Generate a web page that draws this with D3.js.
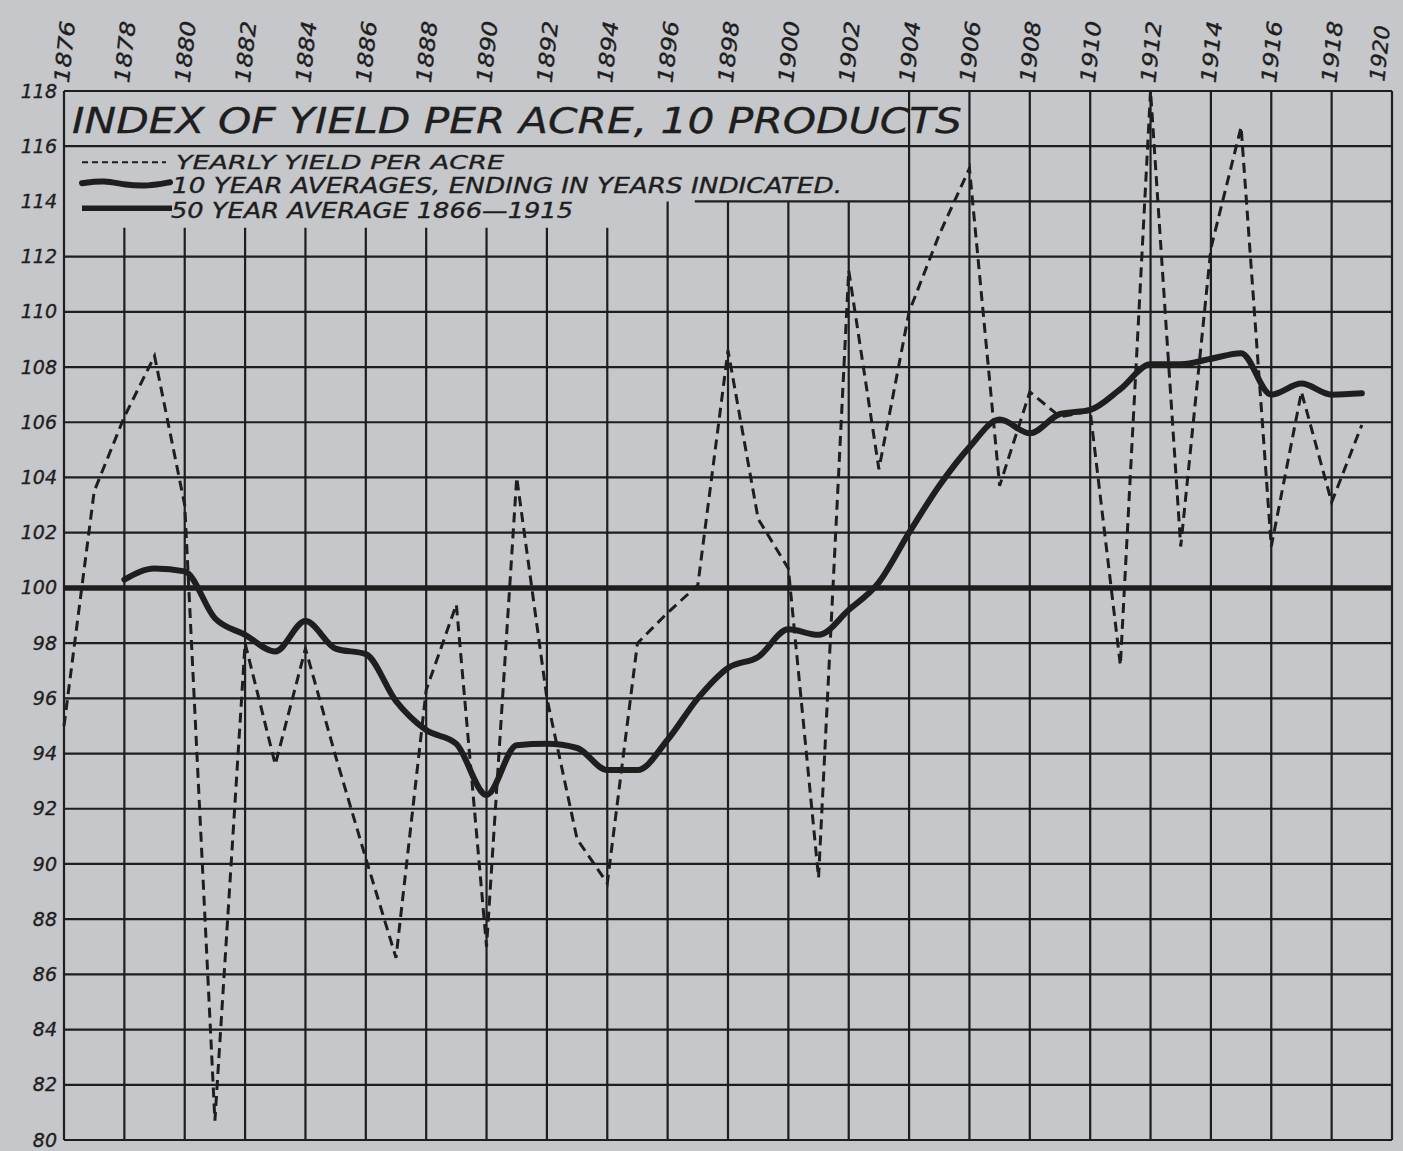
<!DOCTYPE html>
<html><head><meta charset="utf-8">
<script src="https://cdn.jsdelivr.net/npm/d3@7"></script>
<style>
html,body{margin:0;padding:0;background:#c5c7ca;}
svg{display:block;}
text{font-family:"DejaVu Sans",sans-serif;font-style:italic;fill:#1e1e1e;stroke:#1e1e1e;stroke-width:0.35px;}
</style></head><body>
<svg id="chart" width="1403" height="1151"></svg>
<script>
// ---- data ----
const titleText = "INDEX OF YIELD PER ACRE, 10 PRODUCTS";
const legendLabels = ["YEARLY YIELD PER ACRE", "10 YEAR AVERAGES, ENDING IN YEARS INDICATED.", "50 YEAR AVERAGE 1866\u20141915"];
const yearTicks = [1876,1878,1880,1882,1884,1886,1888,1890,1892,1894,1896,1898,1900,1902,1904,1906,1908,1910,1912,1914,1916,1918,1920];
const valueTicks = [80,82,84,86,88,90,92,94,96,98,100,102,104,106,108,110,112,114,116,118];

const yearlyYears = [1876,1877,1878,1879,1880,1881,1882,1883,1884,1885,1886,1887,1888,1889,1890,1891,1892,1893,1894,1895,1896,1897,1898,1899,1900,1901,1902,1903,1904,1905,1906,1907,1908,1909,1910,1911,1912,1913,1914,1915,1916,1917,1918,1919];
const yearlyYield = [95.0,103.5,106.2,108.4,103.0,80.7,98.0,93.6,97.8,93.9,90.2,86.6,96.3,99.4,87.0,104.0,96.0,90.9,89.3,98.0,99.1,100.1,108.6,102.5,100.7,89.5,111.5,104.3,110.0,112.8,115.2,103.7,107.1,106.2,106.4,97.2,118.0,101.5,112.3,116.7,101.5,107.1,103.1,105.9];

const avgYears = [1878,1879,1880,1881,1882,1883,1884,1885,1886,1887,1888,1889,1890,1891,1892,1893,1894,1895,1896,1897,1898,1899,1900,1901,1902,1903,1904,1905,1906,1907,1908,1909,1910,1911,1912,1913,1914,1915,1916,1917,1918,1919];
const tenYearAvg = [100.3,100.7,100.6,98.9,98.3,97.7,98.8,97.8,97.6,95.9,94.85,94.35,92.5,94.3,94.35,94.2,93.4,93.4,94.5,96.0,97.1,97.5,98.5,98.3,99.2,100.2,102.0,103.7,105.1,106.1,105.6,106.3,106.45,107.2,108.1,108.1,108.3,108.5,107.0,107.4,107.0,107.05];

const fiftyYearAvg = 100;

// ---- scales ----
const ink = "#1e1e1e";
const svg = d3.select("#chart");
const x = d3.scaleLinear().domain([1876,1920]).range([64,1392]);
const y = d3.scaleLinear().domain([80,118]).range([1140,91]);

// ---- grid ----
const grid = svg.append("g").attr("stroke", ink).attr("stroke-width", 2.2);
function vStart(yr){
  if (yr === 1876 || yr >= 1904) return y(118);
  if (yr >= 1896) return y(114);
  return y(113.05);
}
grid.selectAll("line.v").data(yearTicks).join("line")
  .attr("class","v")
  .attr("x1", d => x(d)).attr("x2", d => x(d))
  .attr("y1", d => vStart(d)).attr("y2", y(80));
grid.selectAll("line.h").data(valueTicks).join("line")
  .attr("class","h")
  .attr("x1", d => d === 114 ? x(1896.9) : x(1876))
  .attr("x2", x(1920))
  .attr("y1", d => y(d)).attr("y2", d => y(d));

// ---- 50 year average ----
svg.append("line")
  .attr("x1", x(1876)).attr("x2", x(1920))
  .attr("y1", y(fiftyYearAvg)).attr("y2", y(fiftyYearAvg))
  .attr("stroke", ink).attr("stroke-width", 5.5);

// ---- yearly yield (dashed) ----
const yearly = yearlyYears.map((yr,i) => [yr, yearlyYield[i]]);
svg.append("path")
  .datum(yearly)
  .attr("fill","none").attr("stroke", ink).attr("stroke-width", 3)
  .attr("stroke-dasharray","10,6")
  .attr("d", d3.line().x(d => x(d[0])).y(d => y(d[1])));

// ---- 10 year averages (thick) ----
const avg = avgYears.map((yr,i) => [yr, tenYearAvg[i]]);
svg.append("path")
  .datum(avg)
  .attr("fill","none").attr("stroke", ink).attr("stroke-width", 6)
  .attr("stroke-linejoin","round").attr("stroke-linecap","round")
  .attr("d", d3.line().curve(d3.curveMonotoneX).x(d => x(d[0])).y(d => y(d[1])));

// ---- axes ----
const yAxis = svg.append("g").attr("transform", `translate(${x(1876)-5},0)`)
  .call(d3.axisLeft(y).tickValues(valueTicks).tickSize(0).tickPadding(2).tickFormat(d3.format("d")));
yAxis.select(".domain").remove();
yAxis.selectAll("text").attr("font-size", 19).attr("font-family", "DejaVu Sans").attr("font-style","italic").attr("fill", ink);

const xAxis = svg.append("g").attr("transform", `translate(0,${y(118)-8})`)
  .call(d3.axisTop(x).tickValues(yearTicks).tickSize(0).tickFormat(d3.format("d")));
xAxis.select(".domain").remove();
xAxis.selectAll("text")
  .attr("font-size", 21).attr("font-family","DejaVu Sans").attr("font-style","italic").attr("fill", ink)
  .attr("text-anchor","start").attr("x",0).attr("y",0)
  .attr("dy", d => d === 1920 ? "-0.4em" : "0.2em")
  .attr("transform","rotate(-84)")
  .attr("textLength", d => d === 1920 ? 56 : 62).attr("lengthAdjust","spacingAndGlyphs");

// ---- title ----
svg.append("text")
  .attr("x", x(1876)+8).attr("y", y(116)-13)
  .attr("font-size", 35).attr("textLength", 890).attr("lengthAdjust","spacingAndGlyphs")
  .text(titleText);

// ---- legend ----
const lx0 = x(1876)+18, lx1 = x(1876)+102, tx = x(1876)+110;
const legBase = y(116);
svg.append("line").attr("x1", lx0).attr("x2", lx1)
  .attr("y1", legBase+16).attr("y2", legBase+16)
  .attr("stroke", ink).attr("stroke-width", 2).attr("stroke-dasharray","6,4");
const waveOffsets = [[0,0],[0.25,-3],[0.5,2],[0.75,3],[1,-1]];
svg.append("path")
  .datum(waveOffsets)
  .attr("fill","none").attr("stroke", ink).attr("stroke-width", 6).attr("stroke-linecap","round")
  .attr("d", d3.line().curve(d3.curveBasis).x(d => lx0 + d[0]*(lx1-lx0+4)).y(d => legBase+37+d[1]));
svg.append("line").attr("x1", lx0).attr("x2", lx1+6)
  .attr("y1", legBase+62).attr("y2", legBase+62)
  .attr("stroke", ink).attr("stroke-width", 5.5);

const legendText = [
  {t: legendLabels[0], yb: legBase+23, len: 328, fs: 20, x: tx+2},
  {t: legendLabels[1], yb: legBase+47, len: 670, fs: 21, x: tx-2},
  {t: legendLabels[2], yb: legBase+72, len: 402, fs: 21, x: tx-3}
];
svg.selectAll("text.leg").data(legendText).join("text")
  .attr("class","leg")
  .attr("x", d => d.x).attr("y", d => d.yb)
  .attr("font-size", d => d.fs)
  .attr("textLength", d => d.len).attr("lengthAdjust","spacingAndGlyphs")
  .text(d => d.t);
</script>
</body></html>
